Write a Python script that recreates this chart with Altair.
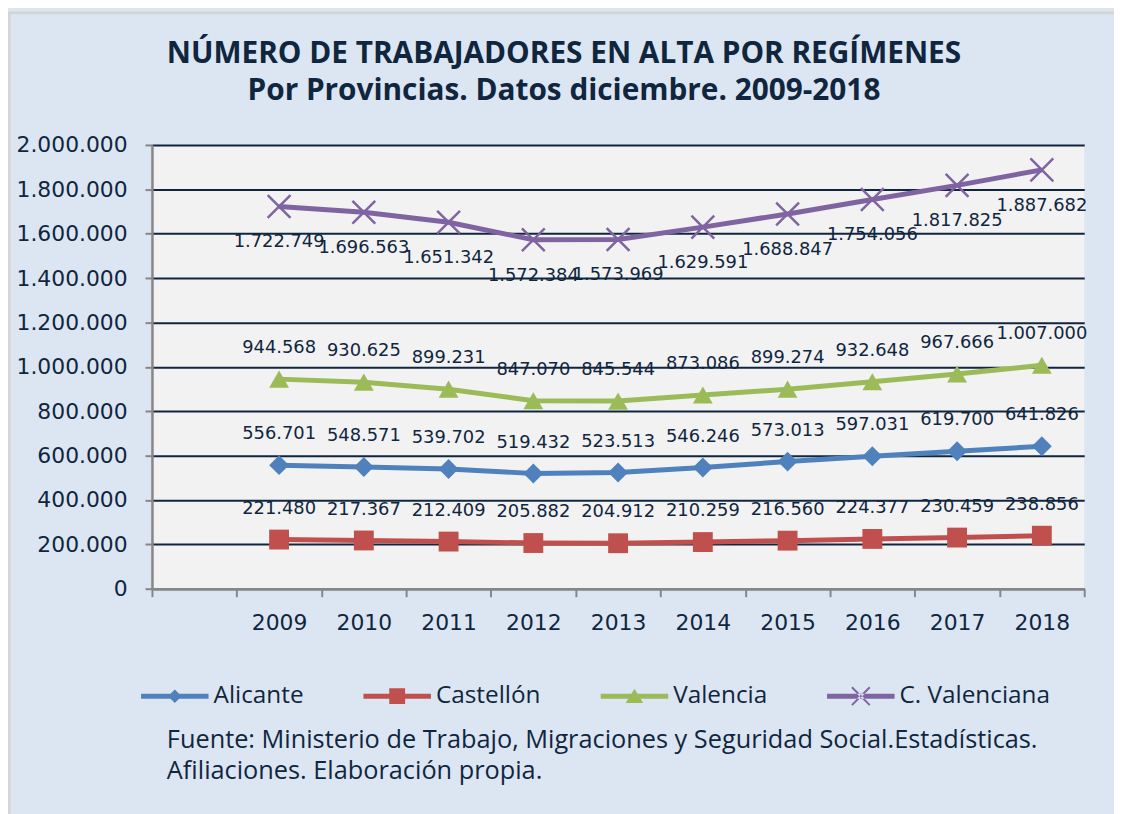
import altair as alt
import pandas as pd

# ---------------- data ----------------
years = ["2009", "2010", "2011", "2012", "2013", "2014", "2015", "2016", "2017", "2018"]
x_domain = [""] + years  # first empty category, as in the original chart
series = ["Alicante", "Castellón", "Valencia", "C. Valenciana"]
alicante = [556701, 548571, 539702, 519432, 523513, 546246, 573013, 597031, 619700, 641826]
castellon = [221480, 217367, 212409, 205882, 204912, 210259, 216560, 224377, 230459, 238856]
valencia = [944568, 930625, 899231, 847070, 845544, 873086, 899274, 932648, 967666, 1007000]
c_valenciana = [1722749, 1696563, 1651342, 1572384, 1573969, 1629591, 1688847, 1754056, 1817825, 1887682]
y_ticks = [0, 200000, 400000, 600000, 800000, 1000000, 1200000, 1400000, 1600000, 1800000, 2000000]
colors = ["#4f81bd", "#c0504d", "#9bbb59", "#8064a2"]
title_lines = ["NÚMERO DE TRABAJADORES EN ALTA POR REGÍMENES",
               "Por Provincias. Datos diciembre. 2009-2018"]
note_lines = ["Fuente: Ministerio de Trabajo, Migraciones y Seguridad Social.Estadísticas.",
              "Afiliaciones. Elaboración propia."]

rows = []
for name, vals in zip(series, [alicante, castellon, valencia, c_valenciana]):
    for yr, v in zip(years, vals):
        rows.append({"year": yr, "serie": name, "value": v})
df = pd.DataFrame(rows)

# ---------------- style ----------------
TXT = "#10263f"
NUM_FONT = "DejaVu Sans"
TXT_FONT = "Open Sans"
AXIS_GRAY = "#868686"

W, H = 939, 447
PAD = {"left": 145, "top": 135, "right": 30, "bottom": 224}

x_enc = alt.X(
    "year:N",
    sort=x_domain,
    bandPosition=0.5,
    scale=alt.Scale(type="band", domain=x_domain, paddingInner=0, paddingOuter=0),
    axis=alt.Axis(title=None, tickBand="extent", labelAngle=0, labelFont=NUM_FONT,
                  labelFontSize=22, labelColor=TXT, labelPadding=16, tickSize=8,
                  tickColor=AXIS_GRAY, tickWidth=2, domainColor=AXIS_GRAY,
                  domainWidth=2.5, grid=False),
)
y_enc = alt.Y(
    "value:Q",
    scale=alt.Scale(domain=[0, 2000000], nice=False, zero=True),
    axis=alt.Axis(title=None, values=y_ticks,
                  labelExpr="replace(format(datum.value, ','), /,/g, '.')",
                  labelFont=NUM_FONT, labelFontSize=22, labelColor=TXT, labelPadding=18,
                  tickSize=7, tickColor=AXIS_GRAY, tickWidth=2, domainColor=AXIS_GRAY,
                  domainWidth=2.5, grid=True, gridColor=TXT, gridWidth=2),
)
color_nol = alt.Color("serie:N", scale=alt.Scale(domain=series, range=colors), legend=None)

base = alt.Chart(df)

lines = base.mark_line().encode(
    x=x_enc, y=y_enc, color=color_nol,
    strokeWidth=alt.StrokeWidth("serie:N", scale=alt.Scale(domain=series, range=[5, 5, 5, 7]), legend=None),
)

markers = base.transform_filter(alt.datum.serie != "C. Valenciana").mark_point(
    filled=True, size=400, opacity=1
).encode(
    x=x_enc, y=y_enc, color=color_nol,
    shape=alt.Shape("serie:N", scale=alt.Scale(domain=series[:3], range=["diamond", "square", "triangle-up"]), legend=None),
)

crosses = base.transform_filter(alt.datum.serie == "C. Valenciana").mark_point(
    shape="M-1,-1L1,1M1,-1L-1,1", size=529, filled=False, strokeWidth=2.5,
    color=colors[3], opacity=1
).encode(x=x_enc, y=y_enc)

lbl_expr = "replace(format(datum.value, ','), /,/g, '.')"
labels_above = base.transform_filter(alt.datum.serie != "C. Valenciana").transform_calculate(
    lbl=lbl_expr
).mark_text(font=NUM_FONT, fontSize=18, color=TXT, dy=-31).encode(x=x_enc, y=y_enc, text="lbl:N")

labels_below = base.transform_filter(alt.datum.serie == "C. Valenciana").transform_calculate(
    lbl=lbl_expr
).mark_text(font=NUM_FONT, fontSize=18, color=TXT, dy=36).encode(x=x_enc, y=y_enc, text="lbl:N")

# legend symbols: line + marker, drawn as filled paths (unit = 34 px)
ln = "M-1,-0.075L1,-0.075L1,0.075L-1,0.075Z"
leg_paths = [
    ln + "M0,-0.2L0.2,0L0,0.2L-0.2,0Z",
    ln + "M-0.235,-0.235L0.235,-0.235L0.235,0.235L-0.235,0.235Z",
    ln + "M0,-0.22L0.26,0.2L-0.26,0.2Z",
    ln + "M-0.286,-0.244L0.244,0.286L0.286,0.244L-0.244,-0.286Z"
         "M-0.244,0.286L0.286,-0.244L0.244,-0.286L-0.286,0.244Z",
]
leg = alt.Legend(title=None, orient="none", legendX=-11, legendY=521, direction="horizontal",
                 columns=4, columnPadding=60, labelFont=TXT_FONT, labelFontSize=24.5,
                 labelColor=TXT, symbolSize=4624, symbolOpacity=1, symbolStrokeWidth=0,
                 labelOffset=5, padding=0, labelLimit=300)
legend_layer = base.mark_point(filled=True, opacity=0).encode(
    x=x_enc, y=y_enc,
    color=alt.Color("serie:N", scale=alt.Scale(domain=series, range=colors), legend=leg, sort=series),
    shape=alt.Shape("serie:N", scale=alt.Scale(domain=series, range=leg_paths), legend=leg, sort=series),
)

one = alt.Data(values=[{"k": 1}])
title = alt.Chart(one).mark_text(
    font=TXT_FONT, fontSize=30, fontWeight="bold", color=TXT, align="center",
    baseline="top", lineHeight=38
).encode(x=alt.value(415), y=alt.value(-107), text=alt.value(title_lines))

note = alt.Chart(one).mark_text(
    font=TXT_FONT, fontSize=25.5, color=TXT, align="left", baseline="top", lineHeight=32
).encode(x=alt.value(15), y=alt.value(587), text=alt.value(note_lines))

border = alt.Chart(one).mark_rect(fillOpacity=0, stroke="#d4d4d4", strokeWidth=3).encode(
    x=alt.value(-144), x2=alt.value(W + 60), y=alt.value(-133), y2=alt.value(H + 260)
)

main = alt.layer(lines, markers, crosses, labels_above, labels_below).resolve_scale(
    color="shared", shape="independent"
)

chart = alt.layer(border, main, legend_layer, title, note).resolve_scale(
    color="independent", shape="independent"
).properties(
    width=W, height=H,
    padding=PAD,
    autosize=alt.AutoSizeParams(type="none"),
    background="#dce6f2",
).configure_view(fill="#f2f2f2", stroke=None)

chart.save("out.html", embed_options={"renderer": "svg", "actions": False})
